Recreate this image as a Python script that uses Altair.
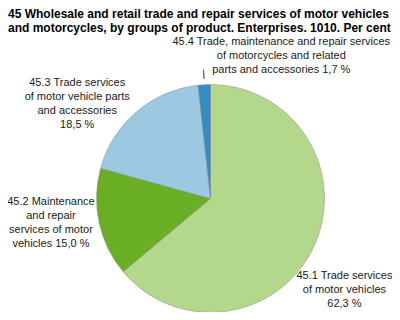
import altair as alt
import pandas as pd

# ---- data ----
categories = ["45.1", "45.2", "45.3", "45.4"]
values = [62.3, 15.0, 18.5, 1.7]
label_templates = [
    "45.1 Trade services\nof motor vehicles\n{pct}",
    "45.2 Maintenance\nand repair\nservices of motor\nvehicles {pct}",
    "45.3 Trade services\nof motor vehicle parts\nand accessories\n{pct}",
    "45.4 Trade, maintenance and repair services\nof motorcycles and related\nparts and accessories {pct}",
]
title_lines = [
    "45 Wholesale and retail trade and repair services of motor vehicles",
    "and motorcycles, by groups of product. Enterprises. 1010. Per cent",
]

# ---- styles / layout ----
colors = ["#b3d78b", "#6aaf23", "#9dc8e2", "#358cc4"]
label_offsets = {  # radius, dx, dy for each label
    "45.1": (150, -2, 14.5),
    "45.2": (150, -13, -28.5),
    "45.3": (150, -36, -1),
    "45.4": (150, 79, -6.5),
}
CX, CY, R = 202.5, 158.5, 114
PAD_TOP = 32
FONT = "Liberation Sans"
LH = 14

df = pd.DataFrame({"category": categories, "value": values})
total = float(df["value"].sum())
df["end"] = df["value"].cumsum()
df["start"] = df["end"] - df["value"]
df["mid"] = (df["start"] + df["end"]) / 2
df["mid2"] = df["mid"] + total * 0.0002
df["label"] = [
    t.format(pct=f"{v:.1f}".replace(".", ",") + " %")
    for t, v in zip(label_templates, values)
]

theta_scale = alt.Scale(domain=[0, total], range=[0, 6.283185307179586])
color_scale = alt.Scale(domain=categories, range=colors)

base = alt.Chart(df)

pie = base.mark_arc(outerRadius=R, stroke="#8c8c8c", strokeWidth=0.5).encode(
    theta=alt.Theta("start:Q", scale=theta_scale),
    theta2="end:Q",
    color=alt.Color("category:N", scale=color_scale, legend=None),
    x=alt.value(CX),
    y=alt.value(CY),
)

leader = base.transform_filter(alt.datum.category == "45.4").mark_arc(
    radius=120, radius2=129, fillOpacity=0, stroke="#555555", strokeWidth=0.8
).encode(
    theta=alt.Theta("mid:Q", scale=theta_scale),
    theta2="mid2:Q",
    x=alt.value(CX),
    y=alt.value(CY),
)

layers = [pie, leader]
for cat in categories:
    r, dx, dy = label_offsets[cat]
    layers.append(
        base.transform_filter(alt.datum.category == cat)
        .mark_text(
            radius=r, dx=dx, dy=dy, lineBreak="\n", align="center", baseline="middle",
            font=FONT, fontSize=11, lineHeight=LH, color="#1a1a1a",
        )
        .encode(
            theta=alt.Theta("mid:Q", scale=theta_scale),
            text="label:N",
            x=alt.value(CX),
            y=alt.value(CY),
        )
    )

title_df = pd.DataFrame({"t": ["\n".join(title_lines)]})
title = alt.Chart(title_df).mark_text(
    align="left", baseline="top", lineBreak="\n", font=FONT, fontSize=12,
    fontWeight="bold", lineHeight=13.5, color="#000000",
).encode(text="t:N", x=alt.value(0), y=alt.value(-PAD_TOP + 1))
layers.append(title)

chart = alt.layer(*layers).properties(
    width=384,
    height=272,
    padding={"left": 0, "top": PAD_TOP, "right": 0, "bottom": 0},
    autosize=alt.AutoSizeParams(type="none"),
).configure_view(stroke=None)

chart.save("out.html", embed_options={"renderer": "svg", "actions": False})
